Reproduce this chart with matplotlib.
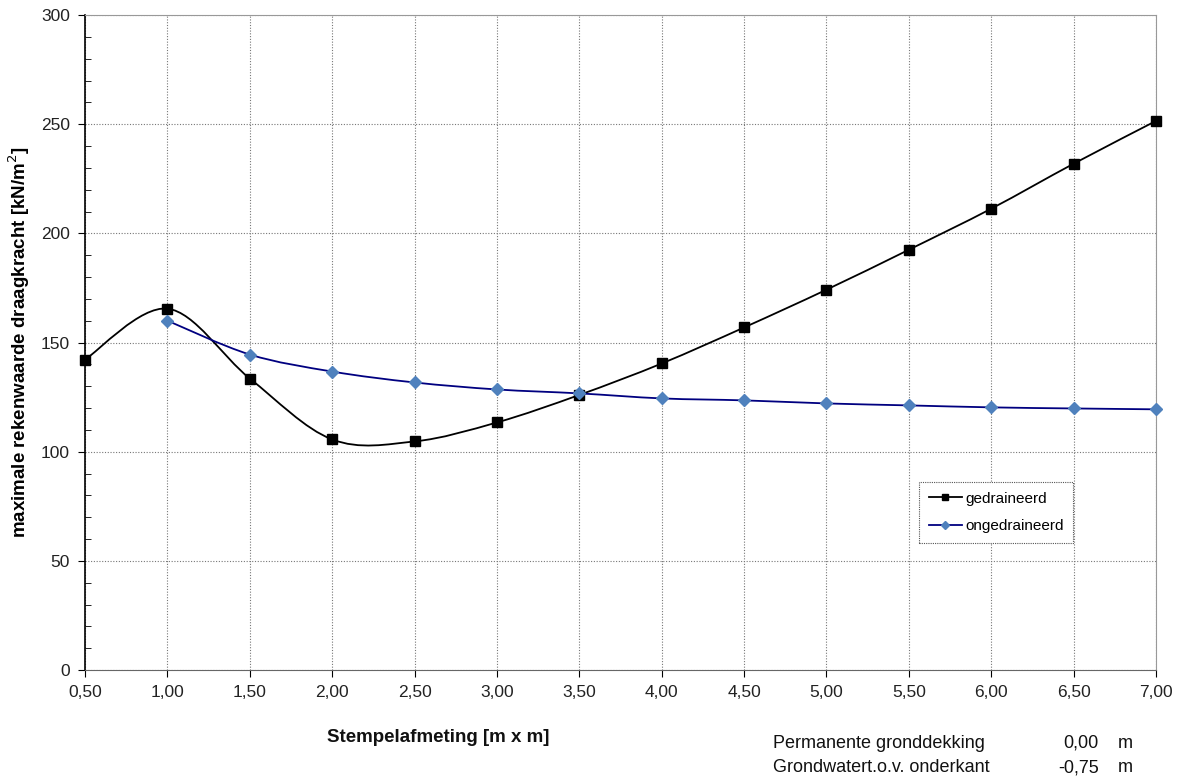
import matplotlib.pyplot as plt
import numpy as np
from matplotlib.path import Path
from matplotlib.patches import PathPatch
from matplotlib.ticker import MultipleLocator, FuncFormatter
from matplotlib.lines import Line2D

plt.rcParams['font.family'] = ['Liberation Sans', 'DejaVu Sans']

x_ged = [0.5, 1.0, 1.5, 2.0, 2.5, 3.0, 3.5, 4.0, 4.5, 5.0, 5.5, 6.0, 6.5, 7.0]
y_ged = [142.2, 165.5, 133.5, 105.6, 104.7, 113.4, 126.0, 140.4, 156.9, 174.2, 192.5, 211.3, 231.9, 251.5]
x_onged = [1.0, 1.5, 2.0, 2.5, 3.0, 3.5, 4.0, 4.5, 5.0, 5.5, 6.0, 6.5, 7.0]
y_onged = [160.0, 144.5, 136.7, 131.7, 128.5, 126.7, 124.4, 123.5, 122.1, 121.2, 120.3, 119.8, 119.4]


def smooth_path(xs, ys):
    # Excel-like smoothed line: cubic Bezier segments (Catmull-Rom control points)
    p = np.column_stack([xs, ys])
    verts = [p[0]]
    codes = [Path.MOVETO]
    n = len(p)
    for i in range(n - 1):
        p0 = p[i - 1] if i > 0 else p[i]
        p3 = p[i + 2] if i + 2 < n else p[i + 1]
        c1 = p[i] + (p[i + 1] - p0) / 6
        c2 = p[i + 1] - (p3 - p[i]) / 6
        verts += [c1, c2, p[i + 1]]
        codes += [Path.CURVE4] * 3
    return Path(verts, codes)


fig = plt.figure(figsize=(11.83, 7.82), dpi=100)
ax = fig.add_axes([0.0719, 0.1432, 0.9053, 0.8376])

ax.add_patch(PathPatch(smooth_path(x_ged, y_ged), fill=False, edgecolor='black', lw=1.3, zorder=3))
ax.add_patch(PathPatch(smooth_path(x_onged, y_onged), fill=False, edgecolor='#000080', lw=1.3, zorder=3))
ax.plot(x_ged, y_ged, ls='none', marker='s', ms=7, color='black', zorder=4, clip_on=False)
ax.plot(x_onged, y_onged, ls='none', marker='D', ms=6, color='#4F81BD', zorder=4, clip_on=False)

ax.set_xlim(0.5, 7.0)
ax.set_ylim(0, 300)
ax.xaxis.set_major_locator(MultipleLocator(0.5))
ax.yaxis.set_major_locator(MultipleLocator(50))
ax.yaxis.set_minor_locator(MultipleLocator(10))
ax.xaxis.set_major_formatter(FuncFormatter(lambda v, p: f'{v:.2f}'.replace('.', ',')))
ax.tick_params(axis='both', which='major', direction='out', length=5, labelsize=12.5, labelcolor='#222222')
ax.tick_params(axis='y', which='minor', direction='in', length=4)
ax.tick_params(axis='x', pad=6)
ax.tick_params(axis='y', pad=6)
ax.grid(True, which='major', ls=(0, (1, 1.5)), color='#777777', lw=0.8)

for s in ['top', 'right']:
    ax.spines[s].set_color('#999999')
ax.spines['left'].set_linewidth(1.2)
ax.spines['bottom'].set_color('#666666')

ax.set_ylabel('maximale rekenwaarde draagkracht [kN/m$^2$]', fontsize=13.5, fontweight='bold', labelpad=6)
fig.text(438 / 1183, 1 - 738 / 782, 'Stempelafmeting [m x m]', fontsize=13.5, fontweight='bold',
         ha='center', va='center', color='#111111')

handles = [Line2D([], [], color='black', marker='s', ms=5, lw=1.3),
           Line2D([], [], color='#000080', marker='D', ms=4, mfc='#4F81BD', mec='#4F81BD', lw=1.3)]
leg = ax.legend(handles, ['gedraineerd', 'ongedraineerd'], loc='lower left',
                bbox_to_anchor=(0.772, 0.183), fontsize=11, fancybox=False,
                framealpha=1, edgecolor='#555555', handlelength=2.2, handletextpad=0.2,
                labelspacing=0.9, borderpad=0.6)
leg.get_frame().set_linewidth(0.8)
leg.get_frame().set_linestyle((0, (1, 1)))

fs = 13
fig.text(773 / 1183, 1 - 743 / 782, 'Permanente gronddekking', fontsize=fs, va='center', color='#111111')
fig.text(1063 / 1183, 1 - 743 / 782, '0,00', fontsize=fs, va='center', color='#111111')
fig.text(1118 / 1183, 1 - 743 / 782, 'm', fontsize=fs, va='center', color='#111111')
fig.text(773 / 1183, 1 - 768 / 782, 'Grondwatert.o.v. onderkant', fontsize=fs, va='center', color='#111111')
fig.text(1058 / 1183, 1 - 768 / 782, '-0,75', fontsize=fs, va='center', color='#111111')
fig.text(1118 / 1183, 1 - 768 / 782, 'm', fontsize=fs, va='center', color='#111111')

fig.savefig('out.png', dpi=100)
